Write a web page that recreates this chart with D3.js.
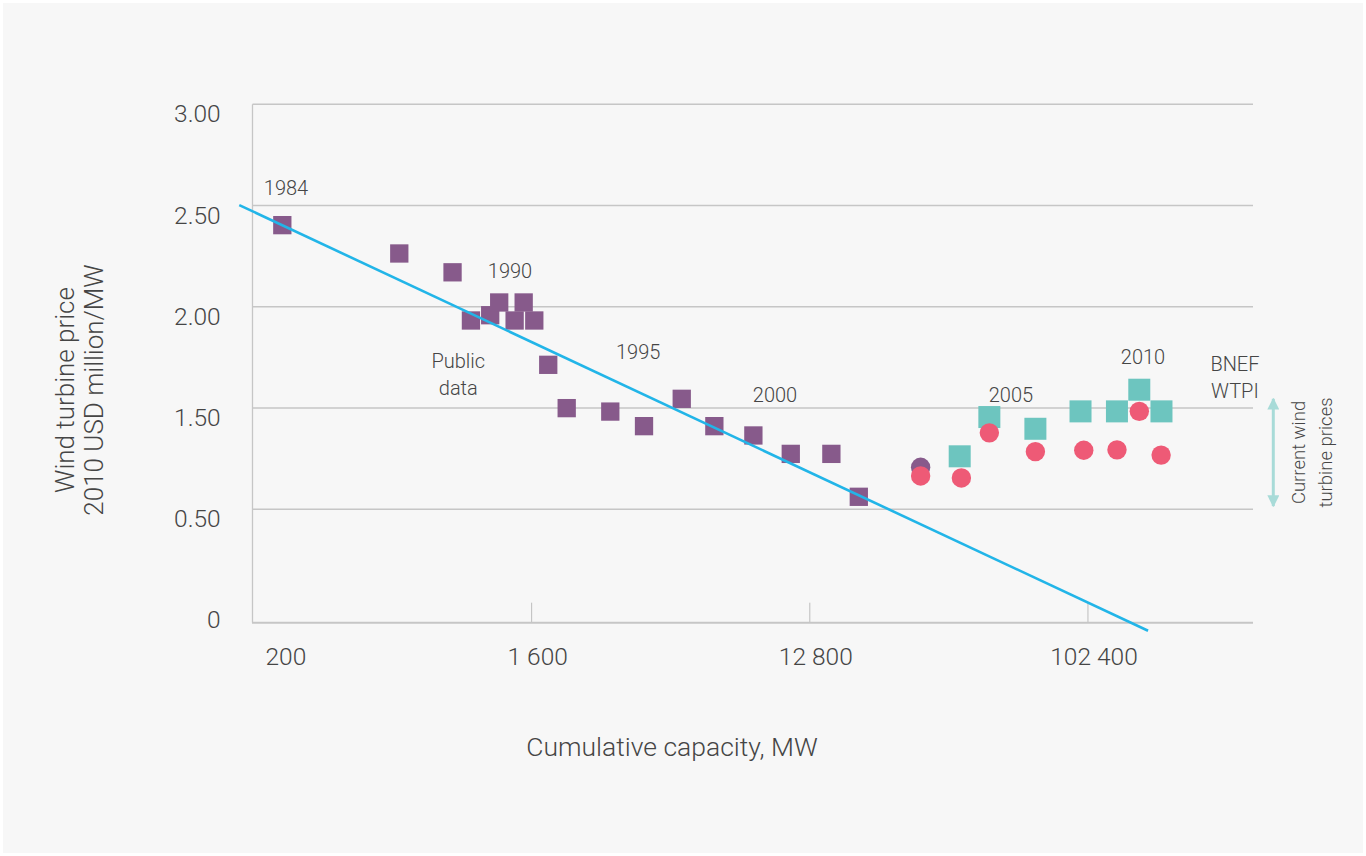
<!DOCTYPE html>
<html><head><meta charset="utf-8">
<script src="https://cdn.jsdelivr.net/npm/d3@7"></script>
<style>
html,body{margin:0;padding:0;background:#ffffff;}
svg{display:block;font-family:Roboto,"Open Sans",sans-serif;font-weight:300;}
</style></head><body>
<svg id="chart" width="1366" height="856"></svg>
<script>
// ---- data ----
const publicCapacity = [249, 597, 889, 1020, 1178, 1260, 1414, 1513, 1638, 1818, 2087, 2891, 3720, 4932, 6294, 8426, 11144, 15096, 18532];
const publicPrice    = [2.403, 2.263, 2.170, 1.932, 1.958, 2.021, 1.932, 2.021, 1.932, 1.713, 1.499, 1.482, 1.410, 1.545, 1.410, 1.364, 1.273, 1.273, 1.061];
const publicCircleCapacity = [29420];
const publicCirclePrice    = [1.207];
const bnefCapacity = [39400, 49180, 69380, 97220, 127660, 150860, 178080];
const bnefPrice    = [1.261, 1.455, 1.397, 1.483, 1.483, 1.590, 1.483];
const currentCapacity = [29420, 39900, 49180, 69380, 99600, 127700, 150900, 177600];
const currentPrice    = [1.164, 1.154, 1.377, 1.284, 1.291, 1.293, 1.483, 1.267];
const trendCapacity = [180.5, 161100];
const trendPrice    = [2.502, 0.399];
const xTickValues = [200, 1600, 12800, 102400];
const xTickLabels = ["200", "1 600", "12 800", "102 400"];
const yTickValues = [3, 2.5, 2, 1.5, 1, 0.5];
const yTickLabels = ["3.00", "2.50", "2.00", "1.50", "0.50", "0"];
const yearLabels   = ["1984", "1990", "1995", "2000", "2005", "2010"];
const yearCapacity = [256, 1366, 3560, 9905, 57800, 155100];
const yearPrice    = [2.552, 2.140, 1.740, 1.528, 1.528, 1.717];
const noteLines    = [["Public", "data"], ["BNEF", "WTPI"]];
const noteCapacity = [928, 308400];
const notePrice    = [1.696, 1.682];
const rangeLines   = ["Current wind", "turbine prices"];
const rangeCapacity = 520600;
const rangePrice   = [1.55, 1.01];
const xTitle = "Cumulative capacity, MW";
const yTitle = ["Wind turbine price", "2010 USD million/MW"];

// ---- style ----
const textColor = "#454545";
const gridColor = "#c6c6c6";
const purple = "#875a8b", teal = "#6dc5bf", pink = "#ee5a76", lineBlue = "#22b5e8", arrowColor = "#a8dbd8";

const svg = d3.select("#chart");
svg.append("rect").attr("x", 3).attr("y", 3).attr("width", 1360).attr("height", 850).attr("fill", "#f7f7f7");

const x = d3.scaleLog().base(2).domain([200, 353000]).range([253, 1253]);
const y = d3.scaleLinear().domain([0.439, 3]).range([622.7, 104.3]);
const [x0, x1] = x.range();
const yBottom = y.range()[0];

// gridlines
svg.append("g").selectAll("line").data(yTickValues.filter(v => v >= 1)).join("line")
  .attr("x1", x0 - 0.5).attr("x2", x1).attr("y1", d => y(d)).attr("y2", d => y(d))
  .attr("stroke", gridColor).attr("stroke-width", 1.5);

// y axis line
svg.append("line").attr("x1", x0 - 0.5).attr("x2", x0 - 0.5).attr("y1", y(3)).attr("y2", yBottom)
  .attr("stroke", gridColor).attr("stroke-width", 1.3);

// y axis labels
const gy = svg.append("g").attr("transform", `translate(${x0 - 0.3},0)`)
  .call(d3.axisLeft(y).tickValues(yTickValues).tickFormat((d, i) => yTickLabels[i]).tickSize(0).tickPadding(32));
gy.select(".domain").remove();
gy.selectAll("text").attr("dy", "0.72em").attr("fill", textColor).style("font-size", "24.5px")
  .style("font-family", "Roboto").style("font-weight", 300);

// x axis
const gx = svg.append("g").attr("transform", `translate(0,${yBottom})`)
  .call(d3.axisBottom(x).tickValues(xTickValues).tickFormat((d, i) => xTickLabels[i]).tickSizeInner(-20).tickSizeOuter(0).tickPadding(25));
gx.select(".domain").remove();
gx.selectAll(".tick line").attr("stroke", "#bdbdbd").attr("stroke-width", 1)
  .attr("opacity", (d, i) => i === 0 ? 0 : 1);
gx.selectAll("text").attr("fill", textColor).style("font-size", "24.5px").style("font-family", "Roboto")
  .style("font-weight", 300)
  .attr("text-anchor", (d, i) => i === 0 ? "start" : "middle")
  .attr("dx", (d, i) => i === 0 ? 12 : 6);
svg.append("line").attr("x1", x0 - 1).attr("x2", x1).attr("y1", yBottom).attr("y2", yBottom)
  .attr("stroke", gridColor).attr("stroke-width", 2);

// axis titles
svg.append("text").attr("x", 672).attr("y", 755.5).attr("text-anchor", "middle")
  .attr("fill", textColor).style("font-size", "26.5px").text(xTitle);
const yt = svg.append("text").attr("transform", "translate(74,390) rotate(-90)").attr("text-anchor", "middle")
  .attr("fill", textColor).style("font-size", "26px");
yt.selectAll("tspan").data(yTitle).join("tspan").attr("x", 0).attr("dy", (d, i) => i === 0 ? 0 : 28.5).text(d => d);

// marks
const sqPurple = 18.3, sqTeal = 22, r = 9.7;
svg.append("g").selectAll("rect").data(publicCapacity.map((c, i) => [c, publicPrice[i]])).join("rect")
  .attr("x", d => x(d[0]) - sqPurple / 2).attr("y", d => y(d[1]) - sqPurple / 2)
  .attr("width", sqPurple).attr("height", sqPurple).attr("fill", purple);
svg.append("g").selectAll("circle").data(publicCircleCapacity.map((c, i) => [c, publicCirclePrice[i]])).join("circle")
  .attr("cx", d => x(d[0])).attr("cy", d => y(d[1])).attr("r", r).attr("fill", purple);
svg.append("g").selectAll("rect").data(bnefCapacity.map((c, i) => [c, bnefPrice[i]])).join("rect")
  .attr("x", d => x(d[0]) - sqTeal / 2).attr("y", d => y(d[1]) - sqTeal / 2)
  .attr("width", sqTeal).attr("height", sqTeal).attr("fill", teal);
svg.append("g").selectAll("circle").data(currentCapacity.map((c, i) => [c, currentPrice[i]])).join("circle")
  .attr("cx", d => x(d[0])).attr("cy", d => y(d[1])).attr("r", r).attr("fill", pink);

// trend line
svg.append("path").datum(trendCapacity.map((c, i) => [c, trendPrice[i]]))
  .attr("d", d3.line().x(d => x(d[0])).y(d => y(d[1])))
  .attr("fill", "none").attr("stroke", lineBlue).attr("stroke-width", 2.6);

// year labels
svg.append("g").selectAll("text").data(yearLabels).join("text")
  .attr("x", (d, i) => x(yearCapacity[i])).attr("y", (d, i) => y(yearPrice[i]))
  .attr("text-anchor", "middle").attr("fill", textColor).style("font-size", "20px").text(d => d);

// notes
noteLines.forEach((lines, j) => {
  const t = svg.append("text").attr("x", x(noteCapacity[j])).attr("y", y(notePrice[j]))
    .attr("text-anchor", "middle").attr("fill", textColor).style("font-size", "20px");
  t.selectAll("tspan").data(lines).join("tspan").attr("x", x(noteCapacity[j]))
    .attr("dy", (d, i) => i === 0 ? 0 : 26.5).text(d => d);
});

// current price range arrow
const defs = svg.append("defs");
defs.append("marker").attr("id", "ah").attr("viewBox", "0 0 10 10").attr("refX", 9).attr("refY", 5)
  .attr("markerWidth", 4).attr("markerHeight", 4).attr("markerUnits", "strokeWidth").attr("orient", "auto-start-reverse")
  .append("path").attr("d", "M0,0 L10,5 L0,10 Z").attr("fill", arrowColor);
const ax = 1273.3;
svg.append("line").attr("x1", ax).attr("x2", ax).attr("y1", y(rangePrice[0]) + 1).attr("y2", y(rangePrice[1]) - 1)
  .attr("stroke", arrowColor).attr("stroke-width", 3)
  .attr("marker-start", "url(#ah)").attr("marker-end", "url(#ah)");

const rt = svg.append("text")
  .attr("transform", `translate(${x(rangeCapacity)},${y((rangePrice[0] + rangePrice[1]) / 2)}) rotate(-90)`)
  .attr("text-anchor", "middle").attr("fill", textColor).style("font-size", "18.5px");
rt.selectAll("tspan").data(rangeLines).join("tspan").attr("x", 0).attr("dy", (d, i) => i === 0 ? 0 : 27).text(d => d);
</script>
</body></html>
